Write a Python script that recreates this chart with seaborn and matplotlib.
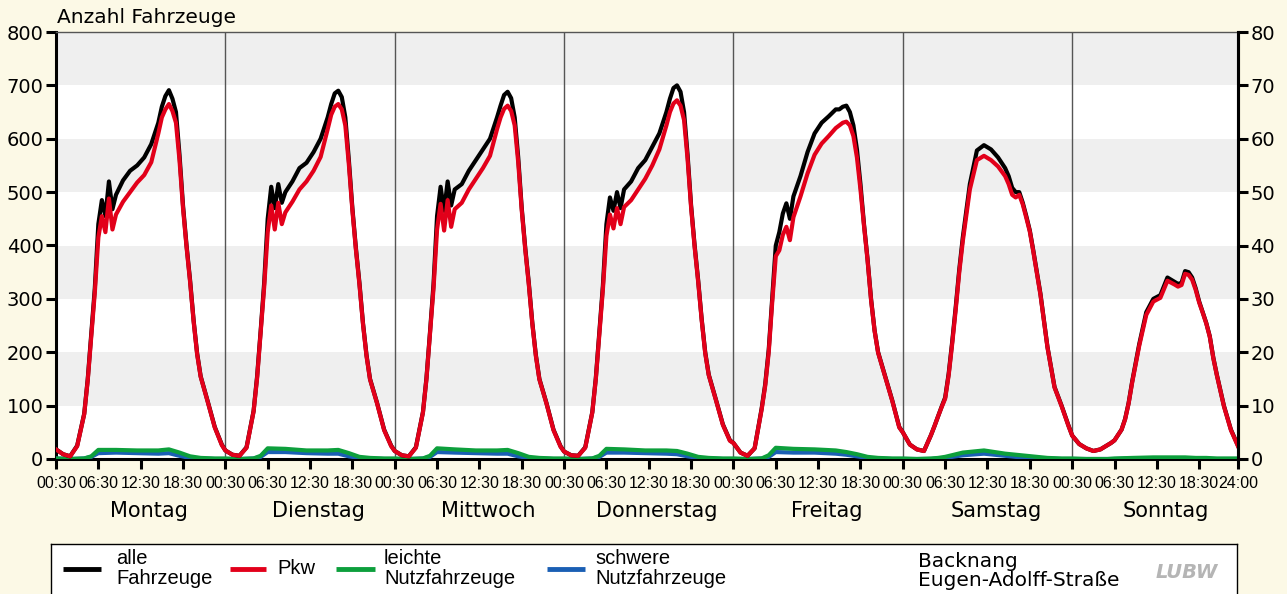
import matplotlib
matplotlib.use('Agg')
import matplotlib.pyplot as plt
import matplotlib.font_manager as fm
import seaborn as sns
import pandas as pd

# Wochentage
tage = ['Montag', 'Dienstag', 'Mittwoch', 'Donnerstag', 'Freitag', 'Samstag', 'Sonntag']

# Uhrzeit (Stunden nach Mitternacht) fuer alle Fahrzeuge und Pkw
zeit_kfz = [0.5, 1.5, 2.5, 3.5, 4.5, 5.0, 5.5, 6.0, 6.5, 7.0, 7.5, 8.0, 8.5, 9.0,
            10, 11, 12, 13, 14, 15, 15.5, 16, 16.5, 17, 17.5, 18, 18.5, 19, 19.5,
            20, 20.5, 21, 22, 23, 24]

alle_fz = [
    [18, 9, 5, 25, 85, 150, 235, 320, 440, 485, 455, 520, 468, 495, 522, 540, 550, 565, 590, 630,
     660, 680, 691, 675, 650, 570, 475, 400, 335, 260, 198, 155, 108, 60, 27],
    [16, 8, 6, 22, 90, 155, 240, 330, 450, 510, 470, 515, 480, 500, 520, 545, 555, 575, 600, 640,
     665, 685, 690, 678, 640, 560, 470, 395, 330, 255, 195, 150, 105, 55, 25],
    [15, 7, 5, 22, 88, 152, 238, 328, 455, 510, 465, 520, 475, 505, 515, 540, 560, 580, 600, 640,
     662, 682, 688, 676, 640, 565, 470, 395, 330, 255, 195, 150, 105, 55, 24],
    [14, 7, 6, 22, 88, 152, 238, 325, 440, 490, 465, 500, 470, 505, 520, 545, 560, 585, 610, 650,
     675, 695, 700, 688, 650, 570, 475, 400, 335, 262, 200, 158, 112, 65, 35],
    [30, 12, 6, 20, 95, 140, 205, 303, 400, 425, 460, 479, 450, 492, 530, 575, 610, 630, 642, 655,
     655, 660, 662, 650, 625, 580, 515, 440, 375, 300, 241, 200, 155, 110, 60],
    [50, 27, 18, 15, 45, 62, 80, 98, 115, 160, 220, 285, 355, 415, 515, 578, 588, 580, 565, 545,
     530, 508, 500, 500, 480, 455, 428, 390, 350, 310, 260, 210, 135, 100, 62],
    [44, 28, 20, 15, 18, 22, 26, 30, 35, 45, 55, 75, 105, 145, 215, 275, 300, 307, 340, 332,
     328, 330, 352, 350, 340, 320, 295, 275, 255, 230, 190, 158, 100, 55, 25],
]

pkw = [
    [18, 9, 5, 24, 84, 148, 230, 312, 415, 455, 425, 488, 430, 458, 482, 500, 518, 532, 556, 610,
     640, 655, 665, 652, 630, 560, 470, 397, 332, 258, 196, 154, 107, 59, 26],
    [16, 8, 6, 21, 89, 152, 236, 322, 425, 475, 430, 480, 440, 462, 482, 505, 520, 540, 566, 618,
     645, 660, 665, 655, 625, 552, 466, 392, 327, 253, 193, 149, 104, 54, 24],
    [15, 7, 5, 21, 87, 150, 234, 320, 430, 478, 428, 485, 435, 468, 480, 505, 525, 545, 568, 618,
     640, 656, 662, 652, 625, 556, 466, 392, 327, 253, 193, 149, 104, 54, 23],
    [14, 7, 6, 21, 87, 150, 234, 318, 418, 458, 432, 470, 440, 472, 485, 505, 525, 550, 580, 625,
     650, 666, 672, 662, 635, 562, 471, 397, 332, 260, 198, 157, 111, 64, 34],
    [30, 12, 6, 20, 93, 137, 200, 295, 380, 391, 420, 435, 410, 453, 492, 535, 570, 591, 605, 620,
     625, 630, 632, 625, 605, 565, 505, 437, 373, 298, 240, 199, 154, 109, 59],
    [50, 27, 18, 15, 45, 62, 80, 97, 113, 157, 216, 280, 350, 408, 505, 560, 568, 560, 548, 530,
     515, 495, 490, 495, 477, 452, 426, 388, 348, 308, 258, 209, 134, 99, 61],
    [44, 28, 20, 15, 18, 22, 26, 30, 35, 45, 55, 74, 104, 143, 212, 270, 295, 302, 334, 327,
     323, 326, 347, 345, 336, 317, 293, 274, 254, 229, 189, 157, 99, 54, 24],
]

# Uhrzeit fuer die Nutzfahrzeuge
zeit_nfz = [0.5, 2.5, 4.5, 5.5, 6.5, 9, 12, 15, 16.5, 18, 19.5, 21, 23, 24]

leichte_nfz = [
    [1, 0, 1, 5, 17, 17, 16, 16, 18, 12, 5, 2, 1, 1],
    [1, 0, 1, 6, 20, 19, 16, 16, 17, 11, 4, 2, 1, 1],
    [1, 0, 1, 6, 20, 18, 16, 16, 17, 11, 4, 2, 1, 1],
    [1, 0, 1, 6, 19, 18, 16, 16, 15, 10, 4, 2, 1, 1],
    [1, 0, 1, 7, 21, 19, 18, 16, 13, 9, 4, 2, 1, 1],
    [1, 0, 1, 2, 4, 12, 16, 10, 8, 6, 4, 2, 1, 1],
    [1, 0, 0, 0, 1, 2, 3, 3, 3, 2, 2, 1, 1, 1],
]

schwere_nfz = [
    [1, 0, 1, 4, 11, 12, 11, 10, 11, 6, 2, 1, 0, 0],
    [0, 0, 1, 4, 13, 13, 11, 10, 10, 5, 2, 1, 0, 0],
    [0, 0, 1, 4, 13, 12, 11, 10, 10, 5, 2, 1, 0, 0],
    [0, 0, 1, 4, 12, 12, 11, 10, 9, 5, 2, 1, 0, 0],
    [0, 0, 1, 4, 13, 12, 12, 10, 8, 5, 2, 1, 0, 0],
    [0, 0, 0, 1, 2, 7, 10, 6, 4, 3, 2, 1, 0, 0],
    [0, 0, 0, 0, 0, 1, 1, 1, 1, 1, 0, 0, 0, 0],
]

x_ticks_tag = [0.5, 6.5, 12.5, 18.5]
x_labels_tag = ['00:30', '06:30', '12:30', '18:30']
y_ticks_links = list(range(0, 801, 100))
y_ticks_rechts = list(range(0, 81, 10))

farben = {'schwer': '#1a5fb4', 'leicht': '#0d9f3c', 'alle': '#000000', 'pkw': '#e2001a'}
legende = [('alle', 'alle\nFahrzeuge'), ('pkw', 'Pkw'),
           ('leicht', 'leichte\nNutzfahrzeuge'), ('schwer', 'schwere\nNutzfahrzeuge')]

# Schriften
namen = {f.name for f in fm.fontManager.ttflist}
schmal = 'Liberation Sans Narrow' if 'Liberation Sans Narrow' in namen else 'Liberation Sans'
plt.rcParams['font.family'] = 'DejaVu Sans'

# Daten in langes Format bringen
rows = []
for d in range(7):
    for art, werte, zeit in [('schwer', schwere_nfz[d], zeit_nfz), ('leicht', leichte_nfz[d], zeit_nfz),
                             ('alle', alle_fz[d], zeit_kfz), ('pkw', pkw[d], zeit_kfz)]:
        for t, v in zip(zeit, werte):
            rows.append((24 * d + t, v, art))
df = pd.DataFrame(rows, columns=['stunde', 'anzahl', 'art'])

W, H = 1287, 594
bg = '#fcf9e6'
fig = plt.figure(figsize=(W / 100, H / 100), dpi=100, facecolor=bg)
ax = fig.add_axes([56 / W, 135 / H, 1182 / W, 427 / H])
ax.set_facecolor('white')

# graue Baender im Hintergrund
for y0 in range(100, 800, 200):
    ax.axhspan(y0, y0 + 100, color='#efefef', lw=0, zorder=0)

# Tagestrenner
for d in range(1, 7):
    ax.axvline(24 * d + 0.5, color='#555555', lw=1, zorder=1)

sns.lineplot(data=df, x='stunde', y='anzahl', hue='art',
             hue_order=['schwer', 'leicht', 'alle', 'pkw'], palette=farben,
             estimator=None, errorbar=None, linewidth=3, legend=False, ax=ax, zorder=3)

ax.set_xlim(0.5, 168)
ax.set_ylim(0, 800)
ax.set_xlabel('')
ax.set_ylabel('')

xt = [24 * d + t for d in range(7) for t in x_ticks_tag] + [168]
xl = x_labels_tag * 7 + ['24:00']
ax.set_xticks(xt)
ax.set_xticklabels(xl, fontfamily=schmal, fontsize=11.5)
ax.set_yticks(y_ticks_links)
ax.tick_params(axis='y', labelsize=14, length=7, width=2.2, pad=2)
ax.tick_params(axis='x', length=7, width=2.2, pad=5)

for s in ['left', 'bottom', 'right']:
    ax.spines[s].set_linewidth(2.2)
ax.spines['top'].set_linewidth(1)
ax.spines['top'].set_color('#555555')

# rechte Achse
ax2 = ax.twinx()
ax2.set_ylim(0, 80)
ax2.set_yticks(y_ticks_rechts)
ax2.tick_params(axis='y', labelsize=14, length=7, width=2.2, pad=2)
ax2.spines['right'].set_linewidth(2.2)
ax2.spines['top'].set_visible(False)
ax2.spines['left'].set_visible(False)
ax2.spines['bottom'].set_visible(False)

# Wochentage unter der Achse
for d, tag in enumerate(tage):
    ax.text(24 * d + 13.7, -0.122, tag, transform=ax.get_xaxis_transform(),
            ha='center', va='center', fontsize=15)

ax.text(0.001, 1.035, 'Anzahl Fahrzeuge', transform=ax.transAxes, ha='left', va='center', fontsize=14.5)

# Legendenkasten
lx0, lw = 51, 1186
lax = fig.add_axes([lx0 / W, 0, lw / W, 50 / H])
lax.set_facecolor('white')
lax.set_xlim(lx0, lx0 + lw)
lax.set_ylim(594, 544)
lax.set_xticks([])
lax.set_yticks([])
lax.spines['bottom'].set_visible(False)
for s in ['left', 'top', 'right']:
    lax.spines[s].set_linewidth(1)

# Position der Legendeneintraege in Pixeln: Strich von, Strich bis, Text
legende_pos = [(63, 101, 116), (230, 266, 277), (336, 375, 384), (547, 585, 595)]
for (art, txt), (h0, h1, tx) in zip(legende, legende_pos):
    lax.plot([h0, h1], [569, 569], color=farben[art], lw=3.5, solid_capstyle='butt')
    lax.text(tx, 568.5, txt, ha='left', va='center', fontsize=14.5, fontfamily=schmal, linespacing=1.0)

lax.text(918, 571, 'Backnang\nEugen-Adolff-Straße', ha='left', va='center',
         fontsize=14.5, linespacing=0.95)
lax.text(1187, 572, 'LUBW', ha='center', va='center', fontsize=14, fontweight='bold',
         fontstyle='italic', color='#b5b5b5')

plt.savefig('out.png', dpi=100, facecolor=bg)
